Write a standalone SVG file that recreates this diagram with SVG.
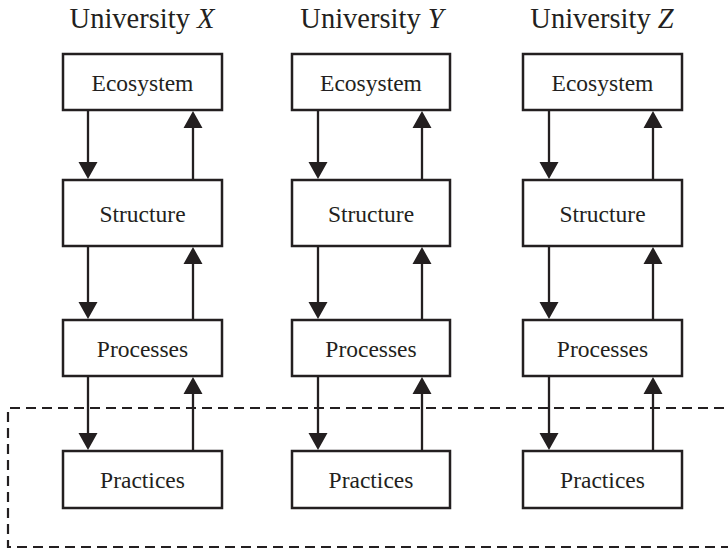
<svg xmlns="http://www.w3.org/2000/svg" width="728" height="550" viewBox="0 0 728 550">
  <style>
    .box { fill: #ffffff; stroke: #231f20; stroke-width: 2.5; }
    .ln { stroke: #231f20; stroke-width: 2.3; fill: none; }
    .hd { fill: #231f20; stroke: none; }
    .dash { fill: none; stroke: #231f20; stroke-width: 2.2; stroke-dasharray: 10 6; }
  </style>
  <rect width="728" height="550" fill="#ffffff"/>

  <g id="titles">
    <text x="142" y="28" font-size="28.5" text-anchor="middle" fill="#231f20" style="font-family: 'Liberation Serif', serif">University <tspan font-style="italic">X</tspan></text>
    <text x="372" y="28" font-size="28.5" text-anchor="middle" fill="#231f20" style="font-family: 'Liberation Serif', serif">University <tspan font-style="italic">Y</tspan></text>
    <text x="602" y="28" font-size="28.5" text-anchor="middle" fill="#231f20" style="font-family: 'Liberation Serif', serif">University <tspan font-style="italic">Z</tspan></text>
  </g>

  <g id="dashed-region">
    <path class="dash" d="M740,408 L8,408 L8,547 L740,547"/>
  </g>

  <g id="connectors">
    <path class="ln" d="M88,110 V165 M193,180 V125 M88,246 V305 M193,320 V261 M88,376 V436 M193,451 V391"/>
    <path class="ln" d="M318,110 V165 M422,180 V125 M318,246 V305 M422,320 V261 M318,376 V436 M422,451 V391"/>
    <path class="ln" d="M549,110 V165 M653,180 V125 M549,246 V305 M653,320 V261 M549,376 V436 M653,451 V391"/>
    <path class="hd" d="M78.5,162 H97.5 L88,179 Z M183.5,128 H202.5 L193,111 Z M78.5,302 H97.5 L88,319 Z M183.5,264 H202.5 L193,247 Z M78.5,433 H97.5 L88,450 Z M183.5,394 H202.5 L193,377 Z"/>
    <path class="hd" d="M308.5,162 H327.5 L318,179 Z M412.5,128 H431.5 L422,111 Z M308.5,302 H327.5 L318,319 Z M412.5,264 H431.5 L422,247 Z M308.5,433 H327.5 L318,450 Z M412.5,394 H431.5 L422,377 Z"/>
    <path class="hd" d="M539.5,162 H558.5 L549,179 Z M643.5,128 H662.5 L653,111 Z M539.5,302 H558.5 L549,319 Z M643.5,264 H662.5 L653,247 Z M539.5,433 H558.5 L549,450 Z M643.5,394 H662.5 L653,377 Z"/>
  </g>

  <g id="x-ecosystem"><rect class="box" x="63" y="54" width="159" height="56"/><text x="142.5" y="91" font-size="23.5" text-anchor="middle" fill="#231f20" style="font-family: 'Liberation Serif', serif">Ecosystem</text></g>
  <g id="x-structure"><rect class="box" x="63" y="180" width="159" height="66"/><text x="142.5" y="222" font-size="23.5" text-anchor="middle" fill="#231f20" style="font-family: 'Liberation Serif', serif">Structure</text></g>
  <g id="x-processes"><rect class="box" x="63" y="320" width="159" height="56"/><text x="142.5" y="357" font-size="23.5" text-anchor="middle" fill="#231f20" style="font-family: 'Liberation Serif', serif">Processes</text></g>
  <g id="x-practices"><rect class="box" x="63" y="451" width="159" height="57"/><text x="142.5" y="488" font-size="23.5" text-anchor="middle" fill="#231f20" style="font-family: 'Liberation Serif', serif">Practices</text></g>

  <g id="y-ecosystem"><rect class="box" x="292" y="54" width="158" height="56"/><text x="371" y="91" font-size="23.5" text-anchor="middle" fill="#231f20" style="font-family: 'Liberation Serif', serif">Ecosystem</text></g>
  <g id="y-structure"><rect class="box" x="292" y="180" width="158" height="66"/><text x="371" y="222" font-size="23.5" text-anchor="middle" fill="#231f20" style="font-family: 'Liberation Serif', serif">Structure</text></g>
  <g id="y-processes"><rect class="box" x="292" y="320" width="158" height="56"/><text x="371" y="357" font-size="23.5" text-anchor="middle" fill="#231f20" style="font-family: 'Liberation Serif', serif">Processes</text></g>
  <g id="y-practices"><rect class="box" x="292" y="451" width="158" height="57"/><text x="371" y="488" font-size="23.5" text-anchor="middle" fill="#231f20" style="font-family: 'Liberation Serif', serif">Practices</text></g>

  <g id="z-ecosystem"><rect class="box" x="523" y="54" width="159" height="56"/><text x="602.5" y="91" font-size="23.5" text-anchor="middle" fill="#231f20" style="font-family: 'Liberation Serif', serif">Ecosystem</text></g>
  <g id="z-structure"><rect class="box" x="523" y="180" width="159" height="66"/><text x="602.5" y="222" font-size="23.5" text-anchor="middle" fill="#231f20" style="font-family: 'Liberation Serif', serif">Structure</text></g>
  <g id="z-processes"><rect class="box" x="523" y="320" width="159" height="56"/><text x="602.5" y="357" font-size="23.5" text-anchor="middle" fill="#231f20" style="font-family: 'Liberation Serif', serif">Processes</text></g>
  <g id="z-practices"><rect class="box" x="523" y="451" width="159" height="57"/><text x="602.5" y="488" font-size="23.5" text-anchor="middle" fill="#231f20" style="font-family: 'Liberation Serif', serif">Practices</text></g>
</svg>
